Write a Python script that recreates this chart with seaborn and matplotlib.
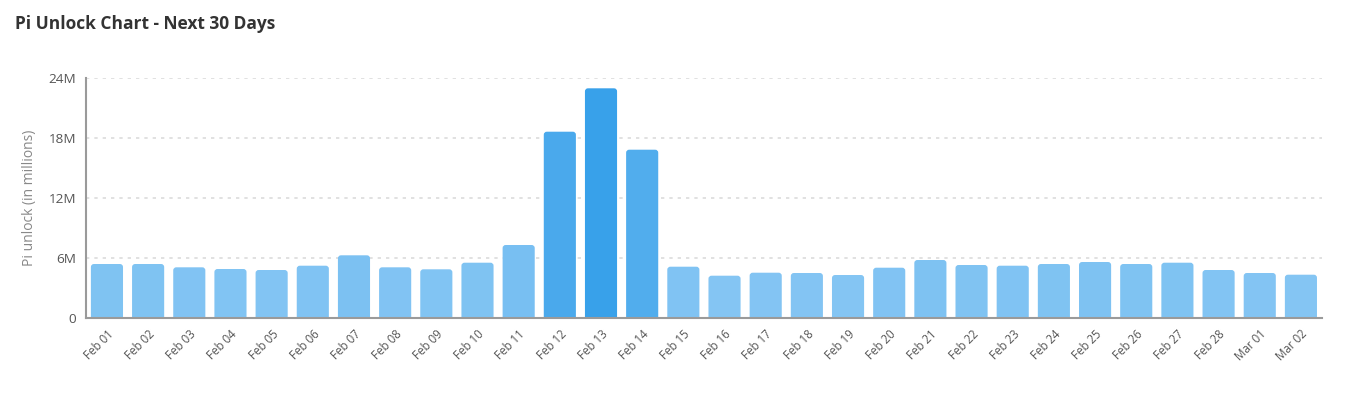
import numpy as np
import pandas as pd
import matplotlib
matplotlib.use("Agg")
import matplotlib.pyplot as plt
import seaborn as sns
from matplotlib.patches import FancyBboxPatch
from matplotlib.colors import to_rgb

# Pi unlock per day, in millions
days = ["Feb 01", "Feb 02", "Feb 03", "Feb 04", "Feb 05", "Feb 06", "Feb 07",
        "Feb 08", "Feb 09", "Feb 10", "Feb 11", "Feb 12", "Feb 13", "Feb 14",
        "Feb 15", "Feb 16", "Feb 17", "Feb 18", "Feb 19", "Feb 20", "Feb 21",
        "Feb 22", "Feb 23", "Feb 24", "Feb 25", "Feb 26", "Feb 27", "Feb 28",
        "Mar 01", "Mar 02"]
unlock = [5.4, 5.4, 5.07, 4.9, 4.8, 5.23, 6.27, 5.07, 4.87, 5.53, 7.3, 18.63,
          22.97, 16.83, 5.13, 4.23, 4.53, 4.5, 4.3, 5.03, 5.8, 5.3, 5.23, 5.4,
          5.6, 5.4, 5.53, 4.8, 4.5, 4.33]
yticks = [0, 6, 12, 18, 24]
ytick_labels = ["0", "6M", "12M", "18M", "24M"]

df = pd.DataFrame({"day": days, "unlock": unlock})

# bar colour gets deeper with the amount unlocked
light = np.array(to_rgb("#84c5f3"))
deep = np.array(to_rgb("#38a1ea"))
vals = np.array(unlock)
t = (vals - vals.min()) / (vals.max() - vals.min())
colors = [tuple(light + (deep - light) * k) for k in t]

sns.set_style("white")
plt.rcParams["font.family"] = ["Open Sans", "DejaVu Sans"]

fig = plt.figure(figsize=(13.6, 3.98), dpi=100)
ax = fig.add_axes([0.0632, 0.201, 0.9088, 0.603])

sns.barplot(data=df, x="day", y="unlock", hue="day", palette=colors,
            legend=False, width=0.78, ax=ax, saturation=1)

# swap square bars for slightly rounded ones
r_x = 0.075
aspect = 0.3 / r_x
for p in list(ax.patches):
    x0, w, h = p.get_x(), p.get_width(), p.get_height()
    fb = FancyBboxPatch((x0, -0.4), w, h + 0.4,
                        boxstyle=f"round,pad=0,rounding_size={r_x}",
                        mutation_aspect=aspect, facecolor=p.get_facecolor(),
                        edgecolor="none", zorder=2)
    p.remove()
    ax.add_patch(fb)

ax.set_ylim(0, 24)
ax.set_xlim(-0.51, len(days) - 0.49)
ax.set_yticks(yticks)
ax.set_yticklabels(ytick_labels)
ax.yaxis.grid(True, linestyle=(0, (2, 3)), color="#dcdcdc", linewidth=1.2)
ax.set_axisbelow(True)

for s in ["top", "right"]:
    ax.spines[s].set_visible(False)
for s in ["left", "bottom"]:
    ax.spines[s].set_color("#9a9a9a")
    ax.spines[s].set_linewidth(1.5)

ax.tick_params(axis="y", length=5, color="#9a9a9a", labelsize=9.7,
               labelcolor="#555555", pad=2)
ax.tick_params(axis="x", length=5, color="#9a9a9a", labelsize=8.3,
               labelcolor="#555555", pad=2)
plt.setp(ax.get_xticklabels(), rotation=45, ha="right", rotation_mode="anchor")

ax.set_xlabel("")
ax.set_ylabel("Pi unlock (in millions)", color="#888888", fontsize=10,
              labelpad=8)

fig.text(0.011, 0.94, "Pi Unlock Chart - Next 30 Days", fontsize=12.5,
         fontweight="bold", color="#333333", va="center", ha="left")

fig.savefig("out.png", dpi=100)
